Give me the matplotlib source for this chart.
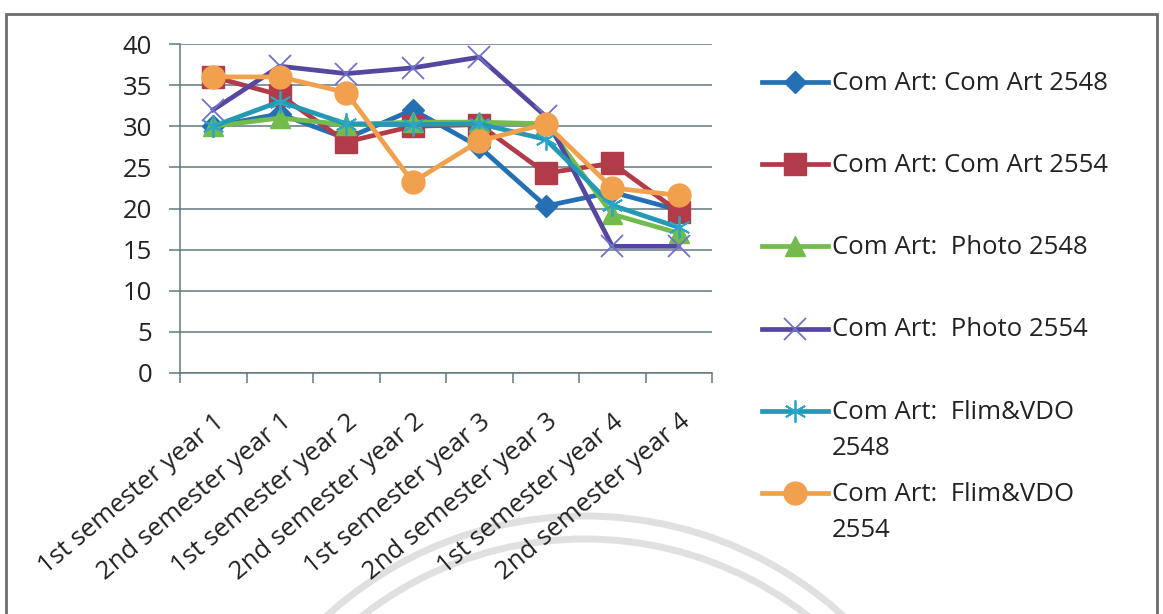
import matplotlib
matplotlib.use('Agg')
from matplotlib import pyplot as plt
from matplotlib.lines import Line2D
from matplotlib.patches import Rectangle, Arc
from matplotlib.transforms import IdentityTransform

# 学期 (x軸のカテゴリ)
semesters = ['1st semester year 1', '2nd semester year 1',
             '1st semester year 2', '2nd semester year 2',
             '1st semester year 3', '2nd semester year 3',
             '1st semester year 4', '2nd semester year 4']

# 各系列の値
comart_2548 = [30.0, 31.5, 28.5, 32.0, 27.5, 20.3, 22.0, 19.8]
comart_2554 = [36.0, 33.8, 28.1, 30.0, 30.2, 24.3, 25.5, 19.6]
photo_2548 = [30.0, 31.0, 30.2, 30.5, 30.5, 30.3, 19.3, 17.0]
photo_2554 = [32.0, 37.3, 36.4, 37.1, 38.4, 31.2, 15.4, 15.4]
film_2548 = [30.0, 33.0, 30.3, 30.2, 30.3, 28.4, 20.4, 17.7]
film_2554 = [36.0, 36.0, 34.1, 23.2, 28.2, 30.3, 22.5, 21.6]

labels = ['Com Art: Com Art 2548', 'Com Art: Com Art 2554',
          'Com Art:  Photo 2548', 'Com Art:  Photo 2554',
          'Com Art:  Flim&VDO\n2548', 'Com Art:  Flim&VDO\n2554']
series = [comart_2548, comart_2554, photo_2548, photo_2554, film_2548, film_2554]

# 見た目 (色・マーカー)
styles = [
    dict(color='#2470b3', marker='D', ms=11, mfc='#2470b3', mec='#2470b3', mew=1),
    dict(color='#b13b48', marker='s', ms=15.5, mfc='#b13b48', mec='#b13b48', mew=1),
    dict(color='#72bb4c', marker='^', ms=15, mfc='#72bb4c', mec='#72bb4c', mew=1),
    dict(color='#5546a0', marker='x', ms=16, mfc='none', mec='#6f72c8', mew=1.3),
    dict(color='#2499b3', marker=(6, 2, 0), ms=16, mfc='none', mec='#2aa7c6', mew=1.3),
    dict(color='#f1a14d', marker='o', ms=16.5, mfc='#f1a14d', mec='#f1a14d', mew=1),
]

FONT = 'Open Sans'
FONT_SIZE = 18.5
TEXT_COLOR = '#222222'
GRID_COLOR = '#62797e'


def main():
    plt.rcParams['font.family'] = [FONT, 'DejaVu Sans']
    fig = plt.figure(figsize=(11.63, 6.14), dpi=100)

    # 外枠
    fig.patches.append(Rectangle((6 / 1163, -0.05), 1151 / 1163, 1 - 14 / 614 + 0.05,
                                 transform=fig.transFigure, fill=False,
                                 edgecolor='#6d6d6d', lw=2))
    # 背景のすかし (円弧)
    for r in [384, 361]:
        fig.patches.append(Arc((585, 614 - 900), 2 * r, 2 * r, theta1=35, theta2=145,
                               transform=IdentityTransform(), color='#e0e0e0',
                               lw=5, zorder=-5))

    ax = fig.add_axes([180 / 1163, 1 - 373 / 614, 532 / 1163, 329 / 614])
    ax.set_facecolor('none')
    x = list(range(len(semesters)))
    for vals, lab, st in zip(series, labels, styles):
        ax.plot(x, vals, lw=3.4, label=lab, **st)

    ax.set_xlim(-0.5, len(semesters) - 0.5)
    ax.set_ylim(0, 40)
    ax.set_yticks(range(0, 41, 5))
    ax.grid(axis='y', color=GRID_COLOR, lw=1.1)
    ax.set_axisbelow(True)
    for s in ['top', 'right']:
        ax.spines[s].set_visible(False)
    for s in ['left', 'bottom']:
        ax.spines[s].set_color(GRID_COLOR)
        ax.spines[s].set_linewidth(1.1)
    ax.tick_params(axis='y', length=8, width=1.1, color=GRID_COLOR,
                   labelsize=FONT_SIZE, labelcolor=TEXT_COLOR, pad=12)

    # x軸: 目盛はカテゴリの境目、ラベルは中央
    ax.set_xticks([i - 0.5 for i in range(len(semesters) + 1)])
    ax.set_xticklabels([])
    ax.tick_params(axis='x', length=7, width=1.1, color=GRID_COLOR)
    ax.set_xticks(x, minor=True)
    ax.set_xticklabels(semesters, minor=True, rotation=40, ha='right',
                       rotation_mode='anchor', fontsize=FONT_SIZE, color=TEXT_COLOR)
    ax.tick_params(axis='x', which='minor', length=0, pad=26)

    # 凡例 (手作り)
    lax = fig.add_axes([762 / 1163, 1 - 534 / 614, 66 / 1163, 493 / 614])
    lax.set_xlim(0, 1)
    lax.set_ylim(5.5, -0.5)
    lax.axis('off')
    for i, (lab, st) in enumerate(zip(labels, styles)):
        lax.add_line(Line2D([0, 0.5, 1], [i, i, i], lw=3.4, markevery=[1],
                            clip_on=False, **st))
        lax.annotate(lab, xy=(1, i), xytext=(3, 8), textcoords='offset points',
                     ha='left', va='top', fontsize=FONT_SIZE, color=TEXT_COLOR,
                     linespacing=1.6, annotation_clip=False)

    fig.savefig('out.png', dpi=100)


if __name__ == "__main__":
    main()
